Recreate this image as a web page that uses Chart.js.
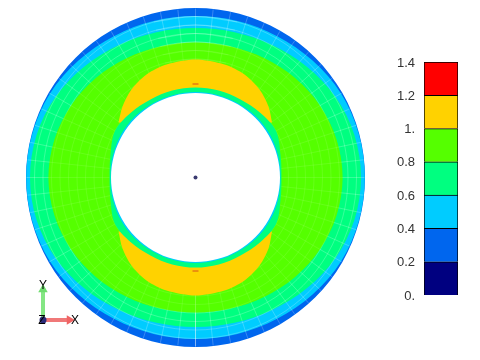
<!DOCTYPE html>
<html>
<head>
<meta charset="utf-8">
<style>
html,body{margin:0;padding:0;background:#fff;width:480px;height:360px;overflow:hidden}
canvas{position:absolute;display:block}
#plot{left:0;top:0}
#bar{left:380px;top:40px}
</style>
<script src="https://cdn.jsdelivr.net/npm/chart.js@4"></script>
</head>
<body>
<canvas id="plot" width="480" height="360"></canvas>
<canvas id="bar" width="90" height="275"></canvas>
<script>
// Angles are measured clockwise from the top of the disc
const angleDeg   = [0,15,30,45,60,75,90,105,120,135,150,165,180,195,210,225,240,255,270,285,300,315,330,345];
const outerEdge  = [169.5,169.5,169.5,169.5,169.5,169.5,169.5,169.5,169.5,169.5,169.5,169.5,169.5,169.5,169.5,169.5,169.5,169.5,169.5,169.5,169.5,169.5,169.5,169.5];
const level04    = [161.5,162,163.2,165.5,168,169,169.3,169,168,165.5,163.2,162,161.5,162,163.2,165.5,168,169,169.3,169,168,165.5,163.2,162];
const level06    = [149.5,150.5,153,157,161.5,164.5,165.5,164.5,161.5,157,153,150.5,149.5,150.5,153,157,161.5,164.5,165.5,164.5,161.5,157,153,150.5];
const level08    = [135,135.7,137.7,140.7,143.7,146,147,146,143.7,140.7,137.7,135.7,135,135.7,137.7,140.7,143.7,146,147,146,143.7,140.7,137.7,135.7];
const innerGreen = [90,90,90,91.5,93,88,86,88,93,91.5,90,90,90,90,90,91.5,93,88,86,88,93,91.5,90,90];
const innerCyan  = [85.5,85.5,85.5,86,86,85.5,85,85.5,86,86,85.5,85.5,85.5,85.5,85.5,86,86,85.5,85,85.5,86,86,85.5,85.5];
const holeEdge   = [84.5,84.5,84.5,84.5,84.5,84.5,84.5,84.5,84.5,84.5,84.5,84.5,84.5,84.5,84.5,84.5,84.5,84.5,84.5,84.5,84.5,84.5,84.5,84.5];

const upperCapX  = [-77,-73,-64,-49,-29,0,29,49,64,73,76.5];
const upperCapY  = [55,71,88,103,113,118,113,103,88,71,55];
const lowerCapX  = [-77,-73,-64,-49,-29,0,29,49,64,73,76.5];
const lowerCapY  = [-54,-71,-88,-103,-113,-118,-113,-103,-88,-71,-54];

const meshRings  = [93,101.5,110,118.5,127,135.5,144,152.5,161];
const meshSpokes = [0,6,12,18,24,30,36,42,48,54,60,66,72,78,84,90,96,102,108,114,120,126,132,138,144,150,156,162,168,174,180,186,192,198,204,210,216,222,228,234,240,246,252,258,264,270,276,282,288,294,300,306,312,318,324,330,336,342,348,354];
const meshInner  = 84.5;
const meshOuter  = 169;

const centerMark = [{x:0,y:0}];
const sideMarks  = [{x:0,y:93.5},{x:0,y:-93.5}];

const triadX     = [-120.5,-152.5,-153.5];
const triadY     = [-143.5,-108,-143.5];
const triadText  = ['X','Y','Z'];
const yAxisXs    = [-152.5,-152.5];
const yAxisYs    = [-142,-112];
const xAxisXs    = [-152,-126];
const xAxisYs    = [-142.5,-142.5];
const originMark = [{x:-152.5,y:-142.5}];

const barLabel   = ['Scale'];
const bandSizes  = [0.2,0.2,0.2,0.2,0.2,0.2,0.2];
const bandColors = ['#000080','#0066EE','#00CCFF','#00FF80','#55FF00','#FFD200','#FF0000'];
const tickValues = [0,0.2,0.4,0.6,0.8,1,1.2,1.4];
const tickLabels = ['0.','0.2','0.4','0.6','0.8','1.','1.2','1.4'];

const cBlue = bandColors[1], cCyan = bandColors[2], cGreen = bandColors[3], cLime = bandColors[4], cYellow = bandColors[5];

function ring(radii){
  const pts = angleDeg.map((a,i)=>{
    const t = a*Math.PI/180;
    return {x:radii[i]*Math.sin(t), y:radii[i]*Math.cos(t)};
  });
  return [pts[pts.length-1],...pts,pts[0],pts[1]];
}
function zipXY(xs,ys){ return xs.map((x,i)=>({x,y:ys[i]})); }

const closedFill = (data,color)=>({data,showLine:true,fill:'shape',backgroundColor:color,borderWidth:0,pointRadius:0,tension:0.338});
const layers = [];
layers.push(closedFill(ring(outerEdge),cBlue));
layers.push(closedFill(ring(level04),cCyan));
layers.push(closedFill(ring(level06),cGreen));
layers.push(closedFill(ring(level08),cLime));
const meshColor = 'rgba(255,255,255,0.22)';
meshRings.forEach(r=>{
  layers.push({data:ring(angleDeg.map(()=>r)),showLine:true,fill:false,borderColor:meshColor,borderWidth:1,pointRadius:0,tension:0.338});
});
const spokePts = [];
meshSpokes.forEach(a=>{
  const t=a*Math.PI/180;
  spokePts.push({x:meshInner*Math.sin(t),y:meshInner*Math.cos(t)});
  spokePts.push({x:meshOuter*Math.sin(t),y:meshOuter*Math.cos(t)});
  spokePts.push({x:null,y:null});
});
layers.push({data:spokePts,showLine:true,spanGaps:false,fill:false,borderColor:meshColor,borderWidth:1,pointRadius:0,tension:0});
// The mesh is fainter on the lime band, so lime is glazed over it once more
layers.push(closedFill(ring(level08),'rgba(85,255,0,0.55)'));
layers.push({...closedFill(zipXY(upperCapX,upperCapY),cYellow),tension:0.3});
layers.push({...closedFill(zipXY(lowerCapX,lowerCapY),cYellow),tension:0.3});
layers.push(closedFill(ring(innerGreen),cGreen));
layers.push(closedFill(ring(innerCyan),cCyan));
layers.push(closedFill(ring(holeEdge),'#FFFFFF'));
layers.push({data:sideMarks,showLine:false,pointStyle:'line',pointRadius:3,pointBorderColor:'#D8501A',pointBorderWidth:1});
layers.push({data:centerMark,showLine:false,pointStyle:'circle',pointRadius:2,pointBackgroundColor:'#3A3A70',pointBorderColor:'#3A3A70',pointBorderWidth:0});
layers.push({data:zipXY(yAxisXs,yAxisYs),showLine:true,fill:false,borderColor:'#84E684',borderWidth:4,pointStyle:'triangle',pointRadius:[0,5.5],pointRotation:0,pointBackgroundColor:'#6EDC6E',pointBorderWidth:0});
layers.push({data:zipXY(xAxisXs,xAxisYs),showLine:true,fill:false,borderColor:'#F07878',borderWidth:4,pointStyle:'triangle',pointRadius:[0,5.5],pointRotation:90,pointBackgroundColor:'#F06464',pointBorderWidth:0});
layers.push({data:originMark,showLine:false,pointStyle:'circle',pointRadius:3.5,pointBackgroundColor:'#2A2A78',pointBorderWidth:0});
layers.forEach((d,i)=>{ d.order = layers.length-i; });

const triadLetters = {
  id:'triadLetters',
  afterDraw(chart){
    const {ctx,scales:{x,y}} = chart;
    ctx.save();
    ctx.font = '12px "Liberation Sans"';
    ctx.fillStyle = '#000';
    ctx.textAlign = 'center';
    ctx.textBaseline = 'middle';
    triadText.forEach((t,i)=>{
      ctx.fillText(t,x.getPixelForValue(triadX[i]),y.getPixelForValue(triadY[i]));
    });
    ctx.restore();
  }
};

new Chart(document.getElementById('plot'),{
  type:'scatter',
  data:{datasets:layers},
  options:{
    responsive:false,animation:false,
    layout:{padding:0,autoPadding:false},
    plugins:{legend:{display:false},tooltip:{enabled:false}},
    scales:{
      x:{type:'linear',display:false,min:-195.5,max:284.5},
      y:{type:'linear',display:false,min:-182.5,max:177.5}
    }
  },
  plugins:[triadLetters]
});

new Chart(document.getElementById('bar'),{
  type:'bar',
  data:{labels:barLabel,datasets:bandSizes.map((v,i)=>({
    data:[v],backgroundColor:bandColors[i],borderColor:'#000',borderWidth:1,
    barPercentage:1,categoryPercentage:1
  }))},
  options:{
    responsive:false,animation:false,
    layout:{padding:{top:22,bottom:20,left:0,right:12},autoPadding:false},
    plugins:{legend:{display:false},tooltip:{enabled:false}},
    scales:{
      x:{stacked:true,display:false},
      y:{stacked:true,min:0,max:1.4,
        afterFit(s){s.width=44;},
        afterBuildTicks(s){s.ticks=tickValues.map(value=>({value}));},
        grid:{display:false,drawTicks:false},border:{display:false},
        ticks:{padding:9,labelOffset:1,color:'#333',font:{family:'"Liberation Sans"',size:13},
          callback(v){return tickLabels[tickValues.indexOf(v)];}}
      }
    }
  }
});
</script>
</body>
</html>
